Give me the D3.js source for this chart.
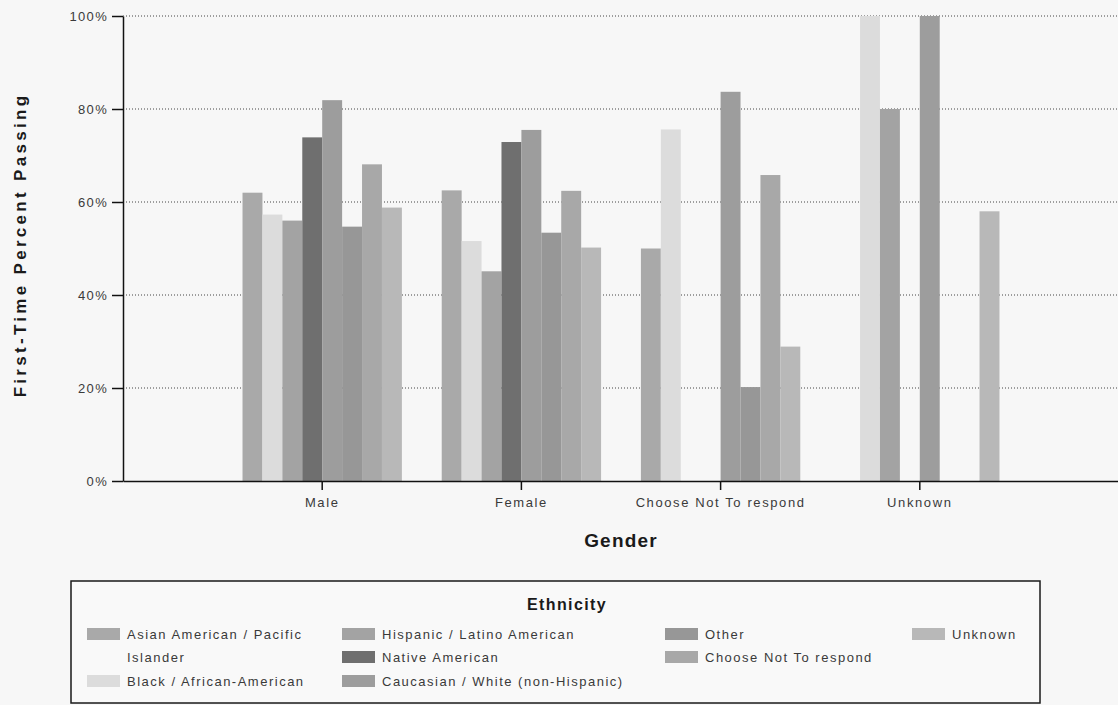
<!DOCTYPE html>
<html>
<head>
<meta charset="utf-8">
<script src="https://cdn.jsdelivr.net/npm/d3@7"></script>
<style>
  html, body { margin: 0; padding: 0; background: #f7f7f7; }
  svg { display: block; }
  text { font-family: "Liberation Sans", Arial, sans-serif; }
</style>
</head>
<body>
<script>
// ---- Data ----
const categories = ["Male", "Female", "Choose Not To respond", "Unknown"];
const seriesNames = [
  "Asian American / Pacific Islander",
  "Black / African-American",
  "Hispanic / Latino American",
  "Native American",
  "Caucasian / White (non-Hispanic)",
  "Other",
  "Choose Not To respond",
  "Unknown"
];
const asianValues     = [62, 62.5, 50, null];
const blackValues     = [57.3, 51.6, 75.6, 100];
const hispanicValues  = [56, 45.1, null, 80];
const nativeValues    = [73.9, 72.9, null, null];
const caucasianValues = [81.9, 75.5, 83.7, 100];
const otherValues     = [54.7, 53.4, 20.2, null];
const chooseNotValues = [68.1, 62.4, 65.8, null];
const unknownValues   = [58.8, 50.2, 28.9, 58];
const yTickValues = [0, 20, 40, 60, 80, 100];
const seriesColors = ["#a9a9a9", "#dcdcdc", "#a3a3a3", "#6f6f6f", "#9d9d9d", "#979797", "#a8a8a8", "#b8b8b8"];

const seriesValues = [asianValues, blackValues, hispanicValues, nativeValues,
  caucasianValues, otherValues, chooseNotValues, unknownValues];

// ---- Layout ----
const W = 1118, H = 705;
const svg = d3.select("body").append("svg").attr("width", W).attr("height", H);
svg.append("rect").attr("width", W).attr("height", H).attr("fill", "#f7f7f7");

const x = d3.scaleBand().domain(categories).range([123, 1119]).paddingInner(0.2).paddingOuter(0.6);
const xs = d3.scaleBand().domain(seriesNames).range([0, x.bandwidth()]);
const y = d3.scaleLinear().domain([0, 100]).range([481, 16]);

// gridlines
svg.append("g").selectAll("line").data(yTickValues.filter(d => d > 0)).join("line")
  .attr("x1", 123).attr("x2", W)
  .attr("y1", d => y(d)).attr("y2", d => y(d))
  .attr("stroke", "#444").attr("stroke-width", 1).attr("stroke-dasharray", "1,2");

// bars
const barData = [];
seriesNames.forEach((s, i) => {
  categories.forEach((c, j) => {
    const v = seriesValues[i][j];
    if (v != null) barData.push({ series: s, cat: c, value: v, color: seriesColors[i] });
  });
});
svg.append("g").selectAll("rect").data(barData).join("rect")
  .attr("x", d => x(d.cat) + xs(d.series))
  .attr("width", xs.bandwidth())
  .attr("y", d => y(d.value))
  .attr("height", d => y(0) - y(d.value))
  .attr("fill", d => d.color);

// y axis
const yAxis = svg.append("g").attr("transform", "translate(123,0)")
  .call(d3.axisLeft(y).tickValues(yTickValues).tickFormat(d => d + "%").tickSize(11).tickSizeOuter(0).tickPadding(4));
yAxis.selectAll("path, line").attr("stroke", "#111").attr("stroke-width", 1.5);
yAxis.selectAll("text").attr("font-size", 13).attr("fill", "#3a3a3a").style("letter-spacing", "1.3px");

// x axis
const xAxis = svg.append("g").attr("transform", "translate(0,481)")
  .call(d3.axisBottom(x).tickSize(9).tickSizeOuter(0).tickPadding(8));
xAxis.selectAll("path, line").attr("stroke", "#111").attr("stroke-width", 1.5);
xAxis.selectAll("text").attr("font-size", 13).attr("fill", "#3a3a3a").style("letter-spacing", "1.6px");

// axis titles
svg.append("text").attr("x", 621).attr("y", 547).attr("text-anchor", "middle")
  .attr("font-size", 19).attr("font-weight", "bold").attr("fill", "#1a1a1a")
  .style("letter-spacing", "1.2px").text("Gender");
svg.append("text").attr("transform", "translate(26,245) rotate(-90)").attr("text-anchor", "middle")
  .attr("font-size", 17).attr("font-weight", "bold").attr("fill", "#1a1a1a")
  .style("letter-spacing", "3.3px").text("First-Time Percent Passing");

// legend
const lg = svg.append("g");
lg.append("rect").attr("x", 71).attr("y", 581).attr("width", 969).attr("height", 122)
  .attr("fill", "#f9f9f9").attr("stroke", "#1a1a1a").attr("stroke-width", 1.5);
lg.append("text").attr("x", 567).attr("y", 610).attr("text-anchor", "middle")
  .attr("font-size", 16).attr("font-weight", "bold").attr("fill", "#1a1a1a")
  .style("letter-spacing", "1.4px").text("Ethnicity");

const colX = [87, 342, 665, 912];
const rowY = [634, 657, 681];
const legendItems = [
  { i: 0, col: 0, row: 0, lines: ["Asian American / Pacific", "Islander"] },
  { i: 1, col: 0, row: 2, lines: ["Black / African-American"] },
  { i: 2, col: 1, row: 0, lines: ["Hispanic / Latino American"] },
  { i: 3, col: 1, row: 1, lines: ["Native American"] },
  { i: 4, col: 1, row: 2, lines: ["Caucasian / White (non-Hispanic)"] },
  { i: 5, col: 2, row: 0, lines: ["Other"] },
  { i: 6, col: 2, row: 1, lines: ["Choose Not To respond"] },
  { i: 7, col: 3, row: 0, lines: ["Unknown"] }
];
legendItems.forEach(it => {
  const gx = colX[it.col], gy = rowY[it.row];
  lg.append("rect").attr("x", gx).attr("y", gy - 6).attr("width", 33).attr("height", 12)
    .attr("fill", seriesColors[it.i]);
  it.lines.forEach((ln, k) => {
    lg.append("text").attr("x", gx + 40).attr("y", rowY[it.row + k] + 4.5)
      .attr("font-size", 13).attr("fill", "#3a3a3a").style("letter-spacing", "1.5px").text(ln);
  });
});
</script>
</body>
</html>
